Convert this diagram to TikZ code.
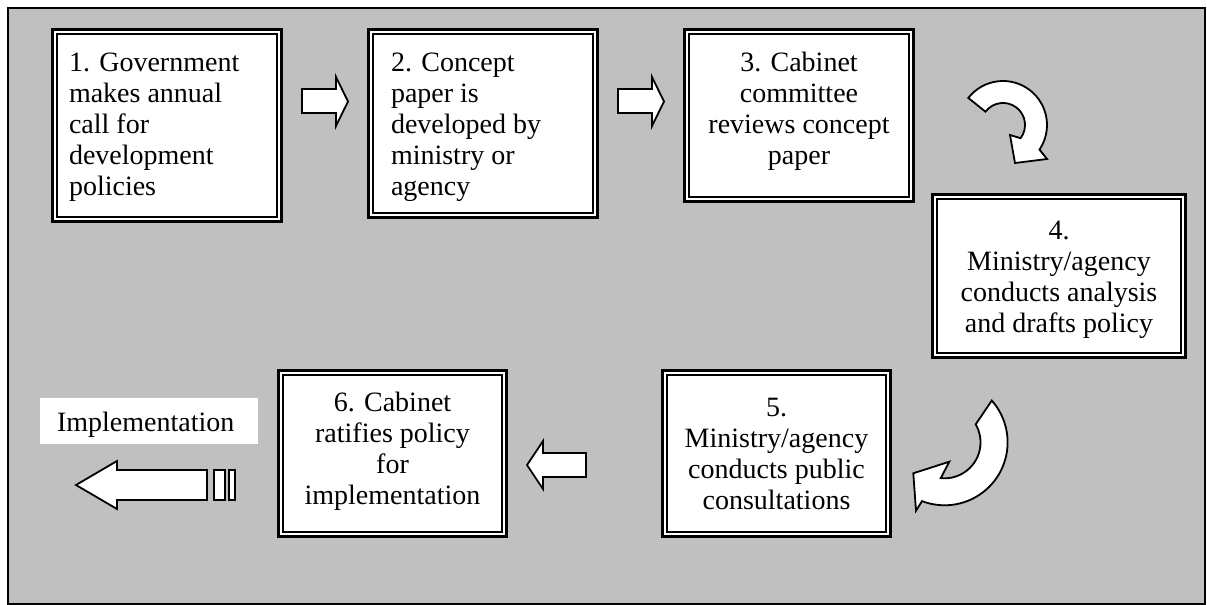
\documentclass[tikz,border=0pt]{standalone}
\usepackage{fontspec}
\setmainfont{Liberation Serif}
\usetikzlibrary{fit}
\definecolor{bggray}{RGB}{192,192,192}
\newcommand\dblbox[5]{%
  \path (#2+1.5,#3+1.5) coordinate (#1nw) (#4-1.5,#5-1.5) coordinate (#1se);
  \node[box, fit=(#1nw)(#1se)] (#1) {};
  \draw[innerline] ([shift={(4.5,4.5)}]#1.north west) rectangle ([shift={(-4.5,-4.5)}]#1.south east);
}
\begin{document}
\begin{tikzpicture}[x=0.5pt,y=-0.5pt,
  box/.style={draw=black, line width=1.5pt, fill=white, inner sep=0pt, outer sep=0pt},
  innerline/.style={draw=black, line width=0.9pt},
  txt/.style={font=\fontsize{14pt}{15.5pt}\selectfont, inner sep=0pt, outer sep=0pt},
  blockarrow/.style={draw=black, fill=white, line width=0.9pt, line join=miter},
]
\useasboundingbox (0,0) rectangle (1207,605);
\draw[fill=bggray, line width=0.6pt] (8,8) rectangle (1205,604);

% boxes
\dblbox{b1}{51}{28}{283}{223}
\dblbox{b2}{367}{28}{599}{219}
\dblbox{b3}{683}{28}{915}{203}
\dblbox{b4}{931}{193}{1187}{359}
\dblbox{b5}{661}{369}{892}{538}
\dblbox{b6}{277}{369}{508}{538}

% texts
\node[txt, anchor=north west, align=left] (t1) at (69,50) {\strut 1. Government\\makes annual\\call for\\development\\policies};
\node[txt, anchor=north west, align=left] (t2) at (391,50) {\strut 2. Concept\\paper is\\developed by\\ministry or\\agency};
\node[txt, anchor=north, align=center] (t3) at (799,49.3) {\strut 3. Cabinet\\committee\\reviews concept\\paper};
\node[txt, anchor=north, align=center] (t4) at (1059,217.3) {\strut 4.\\Ministry/agency\\conducts analysis\\and drafts policy};
\node[txt, anchor=north, align=center] (t5) at (776.5,394.3) {\strut 5.\\Ministry/agency\\conducts public\\consultations};
\node[txt, anchor=north, align=center] (t6) at (392.5,390) {\strut 6. Cabinet\\ratifies policy\\for\\implementation};

% implementation label
\fill[white] (40,398) rectangle (258,444);
\node[txt, anchor=base west] (impl) at (57,431.7) {Implementation};

% straight block arrows
\draw[blockarrow] (302,89) -- (336,89) -- (336,77) -- (348,101.5) -- (336,126) -- (336,113) -- (302,113) -- cycle;
\draw[blockarrow] (618,89) -- (652,89) -- (652,77) -- (664,101.5) -- (652,126) -- (652,113) -- (618,113) -- cycle;
\draw[blockarrow] (586,453) -- (543,453) -- (543,441) -- (527,465) -- (543,489) -- (543,477) -- (586,477) -- cycle;
% striped arrow
\draw[blockarrow] (207,470) -- (117,470) -- (117,461) -- (76,485) -- (117,509) -- (117,500) -- (207,500) -- cycle;
\draw[blockarrow] (214,470) rectangle (225,500);
\draw[blockarrow] (229,470) rectangle (235,500);

% curved arrows
\draw[blockarrow] (1003,125) ++(-142:44) arc[start angle=-142, end angle=34, radius=44]
  -- (1047,159) -- (1015,163) -- (1010,135) -- (1020.6,138.2)
  arc[start angle=37, end angle=-143, radius=22] -- cycle;
\draw[blockarrow] (944.6,442.3) ++(-41.5:63) arc[start angle=-41.5, end angle=111, radius=63]
  -- (916,510.7) -- (913.3,473.3) -- (949.3,461.7) -- (940.8,478.1)
  arc[start angle=96, end angle=-30, radius=36] -- cycle;
\end{tikzpicture}
\end{document}
